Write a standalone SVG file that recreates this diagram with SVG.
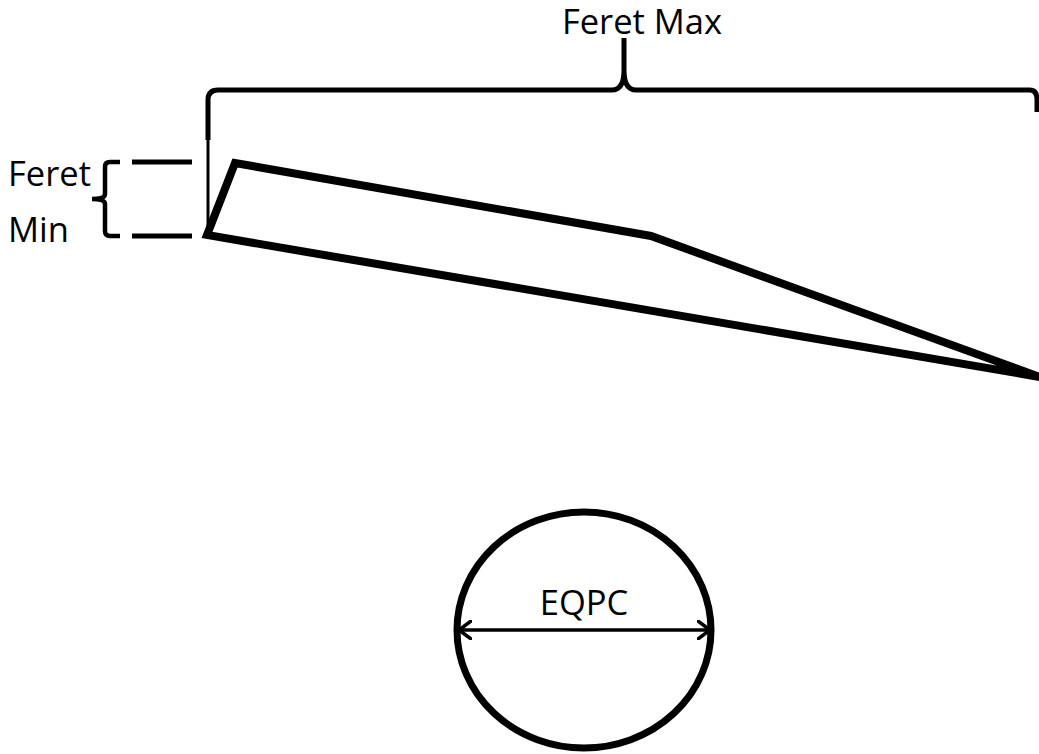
<svg xmlns="http://www.w3.org/2000/svg" width="1039" height="754" viewBox="0 0 1039 754">
<style>
.lbl{font-family:"Open Sans","Liberation Sans",sans-serif;font-size:34.5px;fill:#000}
.ln{fill:none;stroke:#000;stroke-linecap:butt;stroke-linejoin:miter}
</style>
<defs>
<marker id="chev" viewBox="0 0 14 20" refX="13" refY="10" markerWidth="14" markerHeight="20" markerUnits="userSpaceOnUse" orient="auto-start-reverse">
<path d="M1,1 L13,10 L1,19" fill="none" stroke="#000" stroke-width="3.5" stroke-linecap="round" stroke-linejoin="round"/>
</marker>
</defs>
<rect width="1039" height="754" fill="#fff"/>
<g id="feret-max">
<path class="ln" stroke-width="5" d="M208,140 L208,100 Q208,90 218,90 L612,90 Q624,90 624,70 L624,38 M624,38 L624,70 Q624,90 636,90 L1030,90 Q1037,90 1037,100 L1037,112"/>
<path class="ln" stroke-width="3" d="M208,140 L208,232"/>
<text class="lbl" x="642" y="34" text-anchor="middle">Feret Max</text>
</g>
<g id="feret-min">
<path class="ln" stroke-width="4.5" d="M120,162 L110,162 Q105,162 105,167 L105,194 Q105,199 92,199 Q105,199 105,204 L105,231 Q105,236 110,236 L120,236"/>
<path class="ln" stroke-width="5" d="M132,162 L192,162 M132,236 L192,236"/>
<text class="lbl" x="8" y="186">Feret</text>
<text class="lbl" x="8" y="242">Min</text>
</g>
<g id="particle">
<polygon class="ln" stroke-width="8" points="207,235 235,163 651,236 1040,377"/>
</g>
<g id="eqpc-circle">
<ellipse class="ln" stroke-width="7" cx="584" cy="630" rx="127" ry="118"/>
<text class="lbl" x="584" y="615" text-anchor="middle">EQPC</text>
</g>
<g id="connectors">
<line class="ln" stroke-width="3.5" x1="459" y1="630" x2="710" y2="630" marker-start="url(#chev)" marker-end="url(#chev)"/>
</g>
</svg>
